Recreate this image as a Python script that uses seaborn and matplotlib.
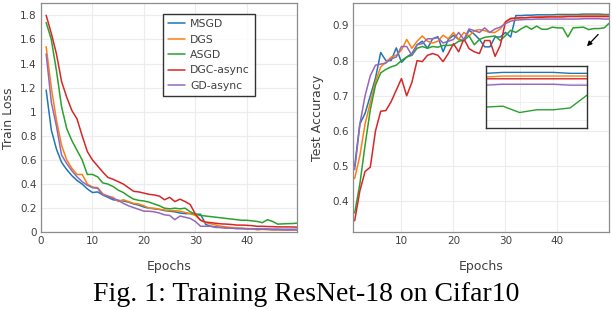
import numpy as np
import pandas as pd
import matplotlib
matplotlib.use("Agg")
import matplotlib.pyplot as plt
import seaborn as sns
from matplotlib.ticker import FormatStrFormatter

# epochs + methods
epochs = list(range(1, 51))
methods = ["MSGD", "DGS", "ASGD", "DGC-async", "GD-async"]
colors = ["#1f77b4", "#ff7f0e", "#2ca02c", "#d62728", "#9467bd"]

# train loss (left)
loss_msgd = [1.18, 0.85, 0.69, 0.58, 0.52, 0.47, 0.43, 0.40, 0.36, 0.33,
             0.335, 0.31, 0.29, 0.27, 0.265, 0.26, 0.25, 0.235, 0.225, 0.21,
             0.20, 0.195, 0.19, 0.18, 0.175, 0.17, 0.16, 0.155, 0.155, 0.15,
             0.15, 0.065, 0.05, 0.045, 0.04, 0.038, 0.035, 0.033, 0.032, 0.03,
             0.03, 0.028, 0.028, 0.027, 0.026, 0.026, 0.025, 0.025, 0.025, 0.024]
loss_dgs = [1.54, 1.20, 0.93, 0.72, 0.60, 0.53, 0.48, 0.48, 0.40, 0.375,
            0.37, 0.32, 0.30, 0.29, 0.255, 0.27, 0.255, 0.24, 0.235, 0.22,
            0.20, 0.20, 0.19, 0.185, 0.18, 0.18, 0.175, 0.165, 0.155, 0.14,
            0.10, 0.08, 0.07, 0.06, 0.05, 0.045, 0.04, 0.035, 0.035, 0.03,
            0.03, 0.02, 0.025, 0.022, 0.02, 0.02, 0.02, 0.018, 0.02, 0.02]
loss_asgd = [1.74, 1.60, 1.34, 1.04, 0.86, 0.76, 0.68, 0.60, 0.48, 0.48,
             0.46, 0.41, 0.40, 0.38, 0.35, 0.33, 0.30, 0.275, 0.265, 0.26,
             0.25, 0.235, 0.22, 0.20, 0.195, 0.20, 0.195, 0.20, 0.17, 0.15,
             0.14, 0.135, 0.13, 0.125, 0.12, 0.115, 0.11, 0.105, 0.10, 0.10,
             0.095, 0.09, 0.08, 0.105, 0.09, 0.068, 0.07, 0.072, 0.073, 0.078]
loss_dgc = [1.80, 1.65, 1.48, 1.25, 1.12, 1.01, 0.94, 0.80, 0.67, 0.60,
            0.55, 0.50, 0.455, 0.44, 0.42, 0.40, 0.37, 0.34, 0.335, 0.325,
            0.315, 0.31, 0.30, 0.27, 0.29, 0.255, 0.275, 0.255, 0.23, 0.15,
            0.10, 0.085, 0.08, 0.075, 0.07, 0.068, 0.065, 0.06, 0.06, 0.058,
            0.055, 0.05, 0.05, 0.048, 0.047, 0.045, 0.045, 0.045, 0.044, 0.042]
loss_gd = [1.48, 1.08, 0.88, 0.64, 0.57, 0.51, 0.46, 0.42, 0.39, 0.37,
           0.365, 0.31, 0.30, 0.28, 0.265, 0.24, 0.22, 0.205, 0.19, 0.175,
           0.175, 0.17, 0.16, 0.145, 0.14, 0.105, 0.135, 0.125, 0.115, 0.09,
           0.05, 0.05, 0.05, 0.04, 0.04, 0.035, 0.035, 0.03, 0.03, 0.028,
           0.028, 0.025, 0.025, 0.025, 0.022, 0.022, 0.02, 0.02, 0.02, 0.02]

# test accuracy (right)
acc_msgd = [0.50, 0.62, 0.65, 0.70, 0.75, 0.823, 0.80, 0.80, 0.836, 0.795,
            0.81, 0.82, 0.845, 0.855, 0.835, 0.862, 0.868, 0.825, 0.86, 0.872,
            0.86, 0.857, 0.886, 0.875, 0.86, 0.839, 0.839, 0.867, 0.867, 0.88,
            0.867, 0.928, 0.928, 0.929, 0.929, 0.93, 0.93, 0.93, 0.93, 0.931,
            0.931, 0.931, 0.931, 0.931, 0.932, 0.932, 0.932, 0.932, 0.931, 0.931]
acc_dgs = [0.465, 0.53, 0.62, 0.68, 0.74, 0.782, 0.795, 0.81, 0.815, 0.83,
           0.86, 0.835, 0.855, 0.87, 0.855, 0.85, 0.855, 0.872, 0.862, 0.88,
           0.86, 0.88, 0.87, 0.885, 0.888, 0.885, 0.88, 0.88, 0.89, 0.91,
           0.918, 0.92, 0.921, 0.922, 0.923, 0.924, 0.925, 0.925, 0.926, 0.926,
           0.927, 0.927, 0.927, 0.927, 0.928, 0.928, 0.928, 0.928, 0.928, 0.928]
acc_asgd = [0.367, 0.45, 0.56, 0.66, 0.73, 0.765, 0.775, 0.782, 0.787, 0.80,
            0.81, 0.815, 0.835, 0.84, 0.835, 0.84, 0.838, 0.843, 0.843, 0.845,
            0.855, 0.857, 0.87, 0.845, 0.86, 0.866, 0.868, 0.87, 0.857, 0.871,
            0.886, 0.88, 0.89, 0.898, 0.889, 0.898, 0.889, 0.889, 0.895, 0.893,
            0.893, 0.867, 0.893, 0.894, 0.895, 0.888, 0.891, 0.891, 0.893, 0.907]
acc_dgc = [0.345, 0.43, 0.485, 0.497, 0.60, 0.656, 0.658, 0.683, 0.716, 0.749,
           0.70, 0.738, 0.80, 0.797, 0.815, 0.82, 0.815, 0.797, 0.82, 0.848,
           0.825, 0.862, 0.834, 0.825, 0.82, 0.857, 0.857, 0.812, 0.843, 0.91,
           0.92, 0.921, 0.922, 0.922, 0.923, 0.923, 0.923, 0.924, 0.924, 0.924,
           0.924, 0.925, 0.925, 0.925, 0.925, 0.925, 0.925, 0.925, 0.925, 0.925]
acc_gd = [0.49, 0.62, 0.70, 0.757, 0.787, 0.79, 0.793, 0.805, 0.81, 0.84,
          0.84, 0.815, 0.845, 0.848, 0.862, 0.862, 0.865, 0.85, 0.855, 0.86,
          0.88, 0.86, 0.89, 0.885, 0.88, 0.893, 0.88, 0.89, 0.895, 0.905,
          0.912, 0.915, 0.916, 0.917, 0.917, 0.918, 0.918, 0.918, 0.918, 0.918,
          0.918, 0.918, 0.918, 0.918, 0.919, 0.919, 0.919, 0.919, 0.918, 0.918]

losses = [loss_msgd, loss_dgs, loss_asgd, loss_dgc, loss_gd]
accs = [acc_msgd, acc_dgs, acc_asgd, acc_dgc, acc_gd]

sns.set_theme(style="whitegrid")
plt.rcParams["font.family"] = ["DejaVu Sans"]
txt = "#404040"

fig = plt.figure(figsize=(6.12, 3.10), dpi=100)
ax1 = fig.add_axes([0.067, 0.2506, 0.418, 0.739])
ax2 = fig.add_axes([0.577, 0.2506, 0.418, 0.739])


def style_ax(ax):
    ax.set_facecolor("white")
    ax.grid(True, color="#ececec", linewidth=0.8)
    for s in ax.spines.values():
        s.set_visible(True)
        s.set_color("#8c8c8c")
        s.set_linewidth(0.9)
    ax.tick_params(direction="in", length=2.5, width=0.7, colors="#8c8c8c",
                   labelcolor=txt, labelsize=7.5, pad=3)


for vals, name, c in zip(losses, methods, colors):
    sns.lineplot(x=epochs, y=vals, ax=ax1, color=c, label=name, linewidth=1.1)
for vals, name, c in zip(accs, methods, colors):
    sns.lineplot(x=epochs, y=vals, ax=ax2, color=c, linewidth=1.1, legend=False)

style_ax(ax1)
ax1.set_xlim(0, 49.7)
ax1.set_ylim(0, 1.9)
ax1.set_xticks([0, 10, 20, 30, 40])
ax1.set_yticks(np.arange(0, 1.81, 0.2))
ax1.yaxis.set_major_formatter(FormatStrFormatter("%g"))
ax1.set_xlabel("Epochs", fontsize=9, color=txt, labelpad=10)
ax1.set_ylabel("Train Loss", fontsize=9, color=txt, labelpad=4)
leg = ax1.legend(loc="upper right", bbox_to_anchor=(0.835, 0.952), fontsize=7.8,
                 frameon=True, fancybox=False, handlelength=1.5, handletextpad=0.5,
                 borderpad=0.45, labelspacing=0.5, borderaxespad=0)
leg.get_frame().set_edgecolor("black")
leg.get_frame().set_linewidth(1.0)
for t in leg.get_texts():
    t.set_color(txt)

style_ax(ax2)
ax2.set_xlim(0.7, 49.9)
ax2.set_ylim(0.312, 0.963)
ax2.set_xticks([10, 20, 30, 40])
ax2.set_yticks([0.4, 0.5, 0.6, 0.7, 0.8, 0.9])
ax2.yaxis.set_major_formatter(FormatStrFormatter("%g"))
ax2.set_xlabel("Epochs", fontsize=9, color=txt, labelpad=10)
ax2.set_ylabel("Test Accuracy", fontsize=9, color=txt, labelpad=6)
ax2.annotate("", xy=(45.3, 0.835), xytext=(48.2, 0.880),
             arrowprops=dict(arrowstyle="-|>", color="black", lw=0.9, mutation_scale=7))

# inset zoom on last epochs
axin = fig.add_axes([0.794, 0.587, 0.165, 0.2])
for vals, c in zip(accs, colors):
    sns.lineplot(x=epochs, y=vals, ax=axin, color=c, linewidth=1.0, legend=False)
axin.set_xlim(44, 50)
axin.set_ylim(0.871, 0.939)
axin.set_facecolor("white")
axin.grid(True, color="#f0f0f0", linewidth=0.7)
axin.set_xticks([46, 48])
axin.set_yticks([0.88, 0.9, 0.92])
axin.tick_params(length=0, labelbottom=False, labelleft=False)
axin.set_xlabel("")
axin.set_ylabel("")
for s in axin.spines.values():
    s.set_visible(True)
    s.set_color("#333333")
    s.set_linewidth(1.0)

# caption (kept inside the canvas)
fig.text(0.5, 0.028, "Fig. 1: Training ResNet-18 on Cifar10", ha="center",
         va="baseline", fontsize=20, family="Liberation Serif", color="black")

fig.savefig("out.png", dpi=100)
